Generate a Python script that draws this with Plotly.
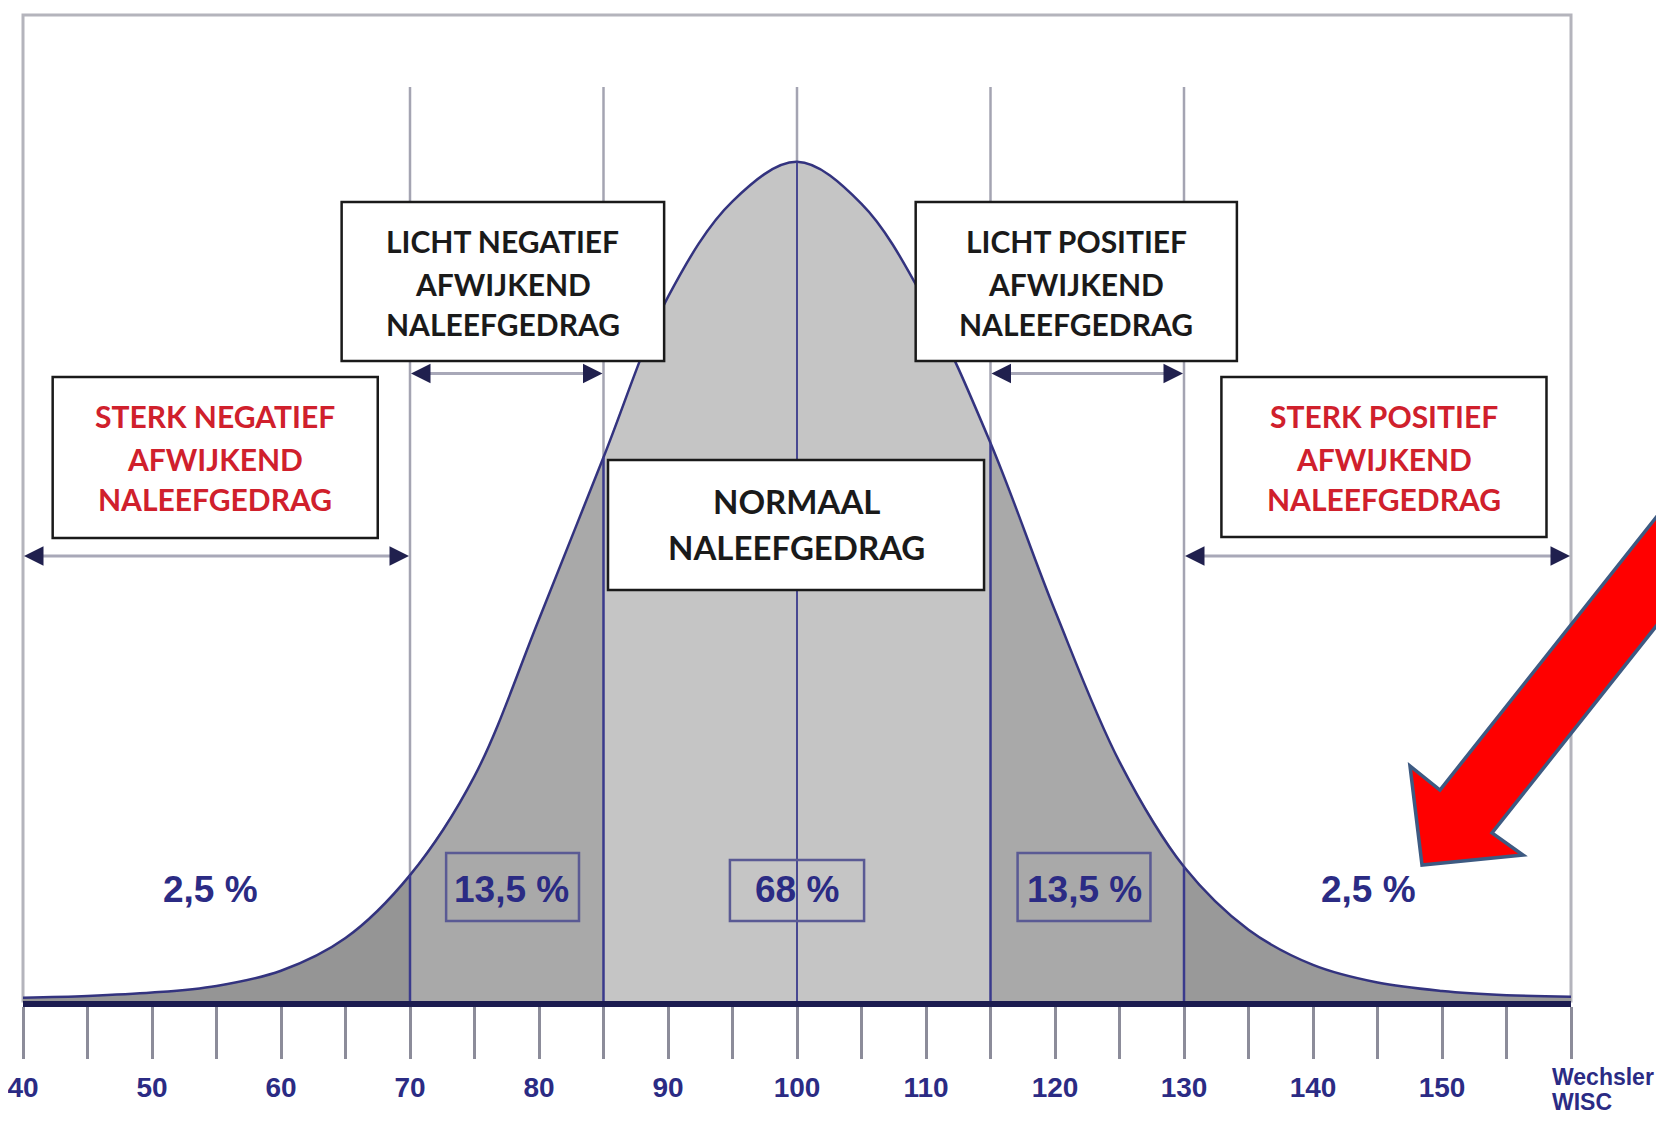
import plotly.graph_objects as go

# ---------------- data ----------------
iq_scores = [40, 45, 50, 55, 60, 65, 70, 75, 80, 85, 90, 95, 100,
             105, 110, 115, 120, 125, 130, 135, 140, 145, 150, 155, 160]
# curve height as % of the peak
curve_height = [0.4, 0.6, 1.0, 1.8, 3.6, 7.5, 15.0, 26.8, 45.5, 64.8, 83.9, 95.3, 100.0,
                95.0, 83.2, 66.5, 46.5, 28.5, 16.0, 8.5, 4.3, 2.2, 1.2, 0.7, 0.5]
band_edges = [40, 70, 85, 115, 130, 160]
band_colors = ["#959595", "#a9a9a9", "#c5c5c5", "#a9a9a9", "#999999"]
band_percent = ["2,5 %", "13,5 %", "68 %", "13,5 %", "2,5 %"]
band_percent_x = [54.5, 77.9, 100.0, 122.3, 144.3]
tick_values = [40, 50, 60, 70, 80, 90, 100, 110, 120, 130, 140, 150]
tick_labels = ["40", "50", "60", "70", "80", "90", "100", "110", "120", "130", "140", "150"]
axis_name = ["Wechsler", "WISC"]
divider_lines = [70, 85, 100, 115, 130]

category_titles = [
    ["LICHT NEGATIEF", "AFWIJKEND", "NALEEFGEDRAG"],
    ["LICHT POSITIEF", "AFWIJKEND", "NALEEFGEDRAG"],
    ["STERK NEGATIEF", "AFWIJKEND", "NALEEFGEDRAG"],
    ["STERK POSITIEF", "AFWIJKEND", "NALEEFGEDRAG"],
    ["NORMAAL", "NALEEFGEDRAG"],
]
category_ranges = [(70, 85), (115, 130), (40, 70), (130, 160)]

# ---------------- layout geometry (pixels, in the 1664x1126 page) ----------------
PAGE_OFF = 8                      # default body margin of the html page
W, H = 1664 - 2 * PAGE_OFF, 1126 - 2 * PAGE_OFF
PL, PR, PT, PB = 23, 1571, 15, 1001   # plot area in page pixels
YMAX = 117.5
NAVY = "#2b2b84"
GRAYLINE = "#a4a4b2"
NUMFONT = "Liberation Sans, Arial, sans-serif"


def pyp(p):  # page pixel y -> paper y
    return (PB - p) / (PB - PT)


def pxp(p):  # page pixel x -> paper x
    return (p - PL) / (PR - PL)


fig = go.Figure()

# shaded bands under the curve
for i in range(len(band_edges) - 1):
    lo, hi = band_edges[i], band_edges[i + 1]
    xs = [x for x in iq_scores if lo <= x <= hi]
    ys = [curve_height[iq_scores.index(x)] for x in xs]
    fig.add_trace(go.Scatter(x=xs, y=ys, mode="lines", line=dict(width=0, shape="spline", color=band_colors[i]),
                             fill="tozeroy", fillcolor=band_colors[i], hoverinfo="skip", showlegend=False))

# curve outline
fig.add_trace(go.Scatter(x=iq_scores, y=curve_height, mode="lines",
                         line=dict(color="#33337f", width=2.5, shape="spline"),
                         hoverinfo="skip", showlegend=False))

shapes = []
# frame
shapes.append(dict(type="rect", xref="paper", yref="paper", x0=0, x1=1, y0=0, y1=1,
                   line=dict(color="#b4b4bc", width=3), layer="below"))
# gray divider lines (top part)
for d in divider_lines:
    shapes.append(dict(type="line", xref="x", yref="paper", x0=d, x1=d, y0=0, y1=pyp(87),
                       line=dict(color=GRAYLINE, width=2.5), layer="below"))
# navy divider lines inside the shaded area
for d in divider_lines:
    h = curve_height[iq_scores.index(d)]
    shapes.append(dict(type="line", xref="x", yref="y", x0=d, x1=d, y0=0, y1=h,
                       line=dict(color="#3a3a8c", width=2.5 if d != 100 else 1.8), layer="above"))

# double arrows (gray shafts)
arrow_y = {0: 373.5, 1: 373.5, 2: 556, 3: 556}
for k, (a, b) in enumerate(category_ranges):
    shapes.append(dict(type="line", xref="x", yref="paper", x0=a + 0.4, x1=b - 0.4,
                       y0=pyp(arrow_y[k]), y1=pyp(arrow_y[k]),
                       line=dict(color="#a8a8b8", width=3), layer="above"))

# category boxes
box_px = [
    (64.7, 89.7, 202, 361),
    (109.2, 134.1, 202, 361),
    (42.3, 67.5, 377, 538),
    (132.9, 158.1, 377, 537),
    (85.35, 114.5, 460, 590),
]
for (x0, x1, t, b) in box_px:
    shapes.append(dict(type="rect", xref="x", yref="paper", x0=x0, x1=x1, y0=pyp(b), y1=pyp(t),
                       line=dict(color="#1a1a1a", width=2.5), fillcolor="white", layer="above"))

# percent boxes
pct_box = {1: (72.8, 83.1, 853, 921), 2: (94.8, 105.2, 860, 921), 3: (117.1, 127.4, 853, 921)}
for k, (x0, x1, t, b) in pct_box.items():
    shapes.append(dict(type="rect", xref="x", yref="paper", x0=x0, x1=x1, y0=pyp(b), y1=pyp(t),
                       line=dict(color="#5a5a94", width=2.5), layer="above"))

# red arrow
pts = [(1422, 865), (1410, 766), (1440, 790), (1700, 462), (1700, 571), (1492, 833), (1523, 855)]
path = "M " + " L ".join(f"{pxp(x):.5f},{pyp(y):.5f}" for x, y in pts) + " Z"
shapes.append(dict(type="path", xref="paper", yref="paper", path=path, fillcolor="#ff0000",
                   line=dict(color="#3d5a82", width=3.5), layer="above"))

annotations = []
# arrow heads
for k, (a, b) in enumerate(category_ranges):
    yy = pyp(arrow_y[k])
    annotations.append(dict(x=a, y=yy, xref="x", yref="paper", ax=16, ay=0, text="", showarrow=True,
                            arrowhead=2, arrowsize=1.3, arrowwidth=3, arrowcolor="#20204e", standoff=1))
    annotations.append(dict(x=b, y=yy, xref="x", yref="paper", ax=-16, ay=0, text="", showarrow=True,
                            arrowhead=2, arrowsize=1.3, arrowwidth=3, arrowcolor="#20204e", standoff=1))

# category texts
text_lines_y = [[241, 284, 324], [241, 284, 324], [416, 459, 499], [416, 459, 499], [501, 547]]
text_colors = ["#1a1a1a", "#1a1a1a", "#d0202c", "#d0202c", "#1a1a1a"]
text_sizes = [30, 30, 30, 30, 33]
for i, lines in enumerate(category_titles):
    x0, x1 = box_px[i][0], box_px[i][1]
    cx = (x0 + x1) / 2
    for j, line in enumerate(lines):
        annotations.append(dict(x=cx, y=pyp(text_lines_y[i][j]), xref="x", yref="paper", text=line,
                                showarrow=False, xanchor="center", yanchor="middle",
                                font=dict(family="Lato, Open Sans, sans-serif", size=text_sizes[i],
                                          color=text_colors[i], weight="bold")))

# percent labels
for i, lab in enumerate(band_percent):
    annotations.append(dict(x=band_percent_x[i], y=pyp(889), xref="x", yref="paper", text=lab,
                            showarrow=False, xanchor="center", yanchor="middle",
                            font=dict(family=NUMFONT, size=37, color=NAVY, weight="bold")))

# axis name at the right end
annotations.append(dict(x=pxp(1550), y=pyp(1077), xref="paper", yref="paper", text=axis_name[0],
                        showarrow=False, xanchor="left", yanchor="middle",
                        font=dict(family=NUMFONT, size=23, color=NAVY, weight="bold")))
annotations.append(dict(x=pxp(1550), y=pyp(1102), xref="paper", yref="paper", text=axis_name[1],
                        showarrow=False, xanchor="left", yanchor="middle",
                        font=dict(family=NUMFONT, size=23, color=NAVY, weight="bold")))

fig.update_layout(
    width=W, height=H,
    margin=dict(l=PL - PAGE_OFF, r=W - (PR - PAGE_OFF), t=PT - PAGE_OFF, b=H - (PB - PAGE_OFF),
                autoexpand=False),
    paper_bgcolor="white", plot_bgcolor="white",
    shapes=shapes, annotations=annotations, showlegend=False,
    xaxis=dict(range=[40, 160], showgrid=False, zeroline=False, automargin=False,
               showline=True, linecolor="#1c1c50", linewidth=6,
               tickmode="array", tickvals=tick_values, ticktext=tick_labels,
               ticks="outside", ticklen=52, tickwidth=2.5, tickcolor="#8c8c9a",
               ticklabelstandoff=4, ticklabeloverflow="allow",
               minor=dict(dtick=5, tick0=40, ticks="outside", ticklen=52, tickwidth=2.5, tickcolor="#8c8c9a"),
               tickfont=dict(family=NUMFONT, size=28, color=NAVY, weight="bold")),
    yaxis=dict(range=[0, YMAX], visible=False, showgrid=False, zeroline=False, automargin=False),
)

fig.write_html("out.html")
